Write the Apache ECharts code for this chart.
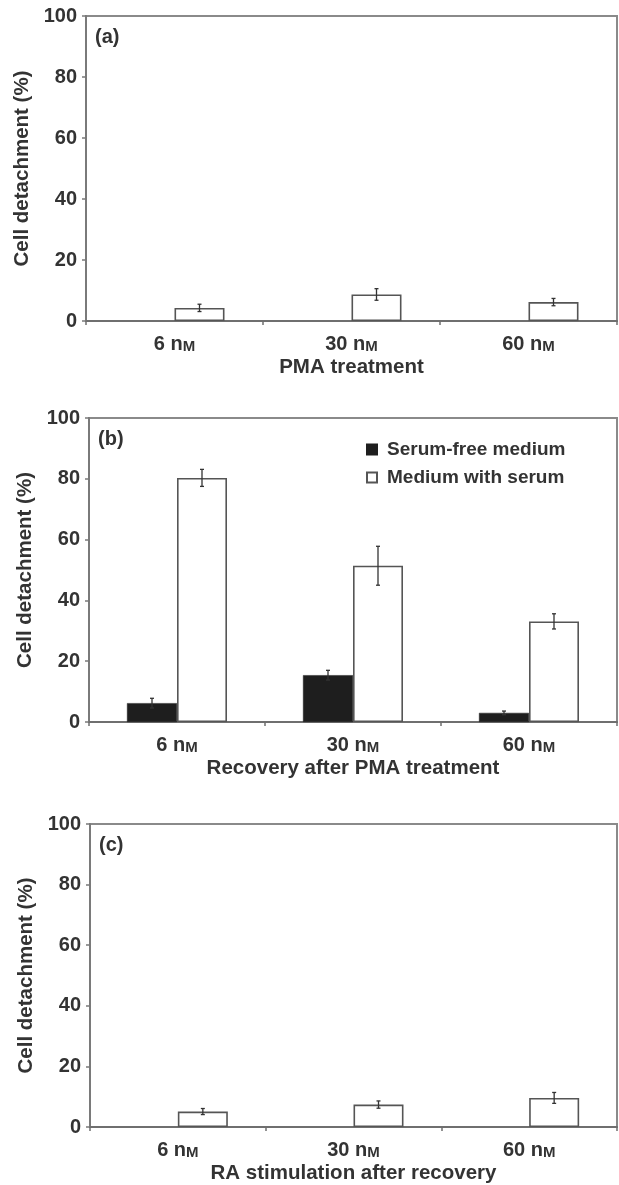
<!DOCTYPE html>
<html>
<head>
<meta charset="utf-8">
<title>Cell detachment</title>
<script src="https://cdn.jsdelivr.net/npm/echarts@6/dist/echarts.min.js"></script>
<style>
  html, body { margin: 0; padding: 0; background: #fff; }
  #main { width: 619px; height: 1185px; }
</style>
</head>
<body>
<div id="main"></div>
<script>
// categories and axis names
var categories = ['6 nM', '30 nM', '60 nM'];
var panelLabels = ['(a)', '(b)', '(c)'];
var xNames = ['PMA treatment', 'Recovery after PMA treatment', 'RA stimulation after recovery'];
var yName = 'Cell detachment (%)';
var seriesNames = ['Serum-free medium', 'Medium with serum'];

// (a) PMA treatment
var aSerumFree = [null, null, null];
var aSerumFreeErr = [null, null, null];
var aWithSerum = [4.3, 8.7, 6.2];
var aWithSerumErr = [1.2, 1.9, 1.2];

// (b) recovery after PMA treatment
var bSerumFree = [6.2, 15.4, 3.0];
var bSerumFreeErr = [1.6, 1.6, 0.6];
var bWithSerum = [80.3, 51.4, 33.1];
var bWithSerumErr = [2.8, 6.4, 2.5];

// (c) RA stimulation after recovery
var cSerumFree = [null, null, null];
var cSerumFreeErr = [null, null, null];
var cWithSerum = [5.1, 7.4, 9.6];
var cWithSerumErr = [1.0, 1.2, 1.8];

var FONT = "'Liberation Sans', Arial, sans-serif";
var TXT = '#333';
var BAR_W = 50;

var panels = [
  { free: aSerumFree, freeErr: aSerumFreeErr, serum: aWithSerum, serumErr: aWithSerumErr },
  { free: bSerumFree, freeErr: bSerumFreeErr, serum: bWithSerum, serumErr: bWithSerumErr },
  { free: cSerumFree, freeErr: cSerumFreeErr, serum: cWithSerum, serumErr: cWithSerumErr }
];

var grids = [
  { left: 86, right: 2, top: 16, height: 305 },
  { left: 89, right: 2, top: 418, height: 304 },
  { left: 90, right: 2, top: 824, height: 304 }
];

function errData(means, errs) {
  var out = [];
  for (var i = 0; i < means.length; i++) {
    if (means[i] == null || errs[i] == null) continue;
    out.push([i, means[i] - errs[i], means[i] + errs[i]]);
  }
  return out;
}

function errorRender(slot) {
  return function (params, api) {
    var i = api.value(0);
    var lo = api.coord([i, api.value(1)]);
    var hi = api.coord([i, api.value(2)]);
    var x = lo[0] + (slot - 0.5) * BAR_W;
    var cap = 2;
    var st = { stroke: '#333', lineWidth: 1.3 };
    return {
      type: 'group',
      children: [
        { type: 'line', shape: { x1: x, y1: lo[1], x2: x, y2: hi[1] }, style: st },
        { type: 'line', shape: { x1: x - cap, y1: lo[1], x2: x + cap, y2: lo[1] }, style: st },
        { type: 'line', shape: { x1: x - cap, y1: hi[1], x2: x + cap, y2: hi[1] }, style: st }
      ]
    };
  };
}

var option = {
  animation: false,
  backgroundColor: '#fff',
  textStyle: { fontFamily: FONT },
  title: [],
  grid: [],
  xAxis: [],
  yAxis: [],
  legend: {
    orient: 'vertical',
    left: 366,
    top: 440,
    padding: 0,
    itemWidth: 10,
    itemHeight: 10,
    itemGap: 9,
    selectedMode: false,
    icon: 'rect',
    data: seriesNames,
    textStyle: { fontFamily: FONT, fontSize: 19, fontWeight: 'bold', color: TXT, padding: [0, 0, 0, 5] }
  },
  series: []
};

for (var p = 0; p < 3; p++) {
  var g = grids[p];
  option.grid.push({
    left: g.left, right: g.right, top: g.top, height: g.height,
    show: true, borderColor: '#8a8a8a', borderWidth: 2, backgroundColor: 'transparent'
  });
  option.title.push({
    text: panelLabels[p],
    left: g.left + 9,
    top: g.top + 11,
    padding: 0,
    textStyle: { fontFamily: FONT, fontSize: 20, fontWeight: 'bold', color: TXT }
  });
  option.xAxis.push({
    type: 'category',
    gridIndex: p,
    data: categories,
    name: xNames[p],
    nameLocation: 'middle',
    nameGap: 36,
    nameTextStyle: { fontFamily: FONT, fontSize: 20.5, fontWeight: 'bold', color: TXT },
    axisLine: { lineStyle: { color: '#6f6f6f', width: 2 } },
    axisTick: { show: true, length: 4, lineStyle: { color: '#6f6f6f', width: 1.5 } },
    axisLabel: {
      margin: 11,
      formatter: function (v) { return '{n|' + v.slice(0, -1) + '}{s|M}'; },
      rich: {
        n: { fontFamily: FONT, fontSize: 20, fontWeight: 'bold', color: TXT, lineHeight: 22, verticalAlign: 'bottom' },
        s: { fontFamily: FONT, fontSize: 15, fontWeight: 'bold', color: TXT, lineHeight: 18, verticalAlign: 'bottom' }
      }
    },
    splitLine: { show: false }
  });
  option.yAxis.push({
    type: 'value',
    gridIndex: p,
    min: 0, max: 100, interval: 20,
    name: yName,
    nameLocation: 'middle',
    nameGap: 51,
    nameTextStyle: { fontFamily: FONT, fontSize: 20.5, fontWeight: 'bold', color: TXT },
    axisLine: { show: true, lineStyle: { color: '#7a7a7a', width: 2 } },
    axisTick: { show: true, length: 4, lineStyle: { color: '#7a7a7a', width: 1.5 } },
    axisLabel: { margin: 9, fontFamily: FONT, fontSize: 20, fontWeight: 'bold', color: TXT },
    splitLine: { show: false }
  });

  var d = panels[p];
  option.series.push({
    name: seriesNames[0], type: 'bar', xAxisIndex: p, yAxisIndex: p,
    data: d.free, barWidth: BAR_W, barGap: '0%',
    itemStyle: { color: '#1e1e1e', borderColor: '#1e1e1e', borderWidth: 0.5 }
  });
  option.series.push({
    name: seriesNames[1], type: 'bar', xAxisIndex: p, yAxisIndex: p,
    data: d.serum, barWidth: BAR_W, barGap: '0%',
    itemStyle: { color: '#ffffff', borderColor: '#555', borderWidth: 1.6 }
  });
  option.series.push({
    type: 'custom', xAxisIndex: p, yAxisIndex: p, z: 5,
    renderItem: errorRender(0), data: errData(d.free, d.freeErr)
  });
  option.series.push({
    type: 'custom', xAxisIndex: p, yAxisIndex: p, z: 5,
    renderItem: errorRender(1), data: errData(d.serum, d.serumErr)
  });
}

var chart = echarts.init(document.getElementById('main'));
chart.setOption(option);
</script>
</body>
</html>
